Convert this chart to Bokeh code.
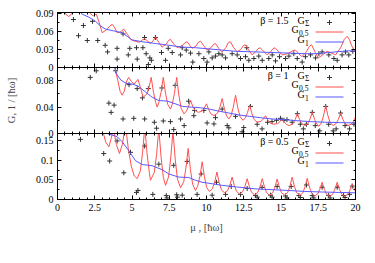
from bokeh.plotting import figure
from bokeh.layouts import column
from bokeh.models import FixedTicker, LinearAxis, Label, BoxAnnotation, Range1d, CustomJSTickFormatter
from bokeh.embed import file_html
from bokeh.resources import INLINE

FONT = "Liberation Serif"
RED = "#ff5050"
BLUE = "#5858ff"
PTS = "#333333"

# ---------------- data ----------------
x_ticks = [0, 2.5, 5, 7.5, 10, 12.5, 15, 17.5, 20]
x_tick_labels = ["0", "2.5", "5", "7.5", "10", "12.5", "15", "17.5", "20"]
x_minor_ticks = [i * 0.5 for i in range(41)]

y_ticks_top = [0, 0.03, 0.06, 0.09]
y_labels_top = ["0", "0.03", "0.06", "0.09"]
y_minor_top = [0.015, 0.045, 0.075]
y_ticks_mid = [0, 0.04, 0.08]
y_labels_mid = ["0", "0.04", "0.08"]
y_minor_mid = [0.02, 0.06, 0.1]
y_ticks_bot = [0, 0.05, 0.1, 0.15]
y_labels_bot = ["0", "0.05", "0.1", "0.15"]
y_minor_bot = [0.025, 0.075, 0.125]

beta_labels = ["\u03b2 = 1.5", "\u03b2 = 1", "\u03b2 = 0.5"]

# G_Sigma points (mu, G)
gs_top = [(1.07, 0.080), (1.41, 0.053), (1.74, 0.070), (2.0, 0.045), (2.35, 0.077), (2.7, 0.045),
          (3.2, 0.037), (3.36, 0.026), (4.0, 0.032), (4.0, 0.014), (4.4, 0.056), (4.75, 0.021),
          (4.85, 0.032), (5.3, 0.033), (5.35, 0.014), (5.73, 0.033), (5.84, 0.050), (5.95, 0.023),
          (6.1, 0.005), (6.2, 0.016), (6.3, 0.012), (6.57, 0.050), (6.98, 0.025), (7.25, 0.012),
          (7.43, 0.032), (7.7, 0.025), (8.26, 0.021), (8.37, 0.033), (8.64, 0.029), (8.93, 0.024),
          (9.08, 0.009), (9.49, 0.023), (9.82, 0.015), (10.04, 0.009), (10.16, 0.026), (10.38, 0.016),
          (10.6, 0.019), (10.83, 0.023), (11.05, 0.021), (11.28, 0.016), (11.72, 0.023), (12.06, 0.021),
          (12.28, 0.015), (12.62, 0.018), (12.7, 0.033), (12.84, 0.012), (13.18, 0.015), (13.51, 0.019),
          (13.74, 0.012), (14.18, 0.015), (14.41, 0.021), (14.63, 0.011), (14.9, 0.018), (15.3, 0.015),
          (15.53, 0.019), (15.86, 0.023), (16.09, 0.015), (16.42, 0.009), (16.64, 0.018), (16.98, 0.021),
          (17.32, 0.016), (17.54, 0.023), (17.76, 0.026), (18.21, 0.021), (18.55, 0.015), (18.77, 0.012),
          (19.1, 0.021), (19.33, 0.026), (19.55, 0.021), (19.82, 0.027)]
gs_mid = [(2.2, 0.085), (2.6, 0.095), (3.45, 0.046), (3.6, 0.032), (3.8, 0.043), (3.9, 0.095),
          (4.4, 0.022), (4.8, 0.074), (5.12, 0.023), (5.35, 0.068), (5.7, 0.054), (5.85, 0.022),
          (6.1, 0.068), (6.5, 0.017), (6.65, 0.008), (7.0, 0.069), (7.1, 0.019), (7.58, 0.018),
          (7.8, 0.006), (7.9, 0.073), (8.26, 0.022), (8.5, 0.012), (8.8, 0.049), (9.15, 0.027),
          (9.2, 0.035), (9.82, 0.035), (10.04, 0.016), (10.5, 0.0145), (10.6, 0.024), (11.05, 0.037),
          (11.39, 0.012), (11.5, 0.0086), (11.95, 0.026), (12.39, 0.0026), (12.5, 0.009), (12.95, 0.041),
          (13.4, 0.014), (13.73, 0.007), (14.1, 0.017), (14.4, 0.018), (14.7, 0.020), (14.97, 0.023),
          (15.2, 0.020), (15.4, 0.021), (15.75, 0.017), (16.1, 0.030), (16.3, 0.014), (16.5, 0.007),
          (16.7, 0.014), (17.1, 0.032), (17.3, 0.012), (17.6, 0.004), (18.0, 0.041), (18.2, 0.014),
          (18.5, 0.004), (18.7, 0.007), (19.0, 0.031), (19.3, 0.012), (19.6, 0.007), (19.9, 0.014)]
gs_bot = [(1.54, 0.153), (3.1, 0.117), (3.5, 0.098), (4.0, 0.149), (4.45, 0.068), (4.9, 0.120),
          (5.3, 0.018), (5.4, 0.023), (5.85, 0.136), (6.4, 0.013), (6.8, 0.090), (7.3, 0.010),
          (7.35, 0.004), (7.8, 0.087), (8.0, 0.012), (8.05, 0.006), (8.37, 0.011), (8.7, 0.097),
          (9.37, 0.013), (9.64, 0.065), (10.38, 0.011), (10.67, 0.044), (11.28, 0.013), (11.66, 0.033),
          (12.28, 0.013), (12.73, 0.028), (13.29, 0.010), (13.4, 0.006), (13.73, 0.031), (14.3, 0.011),
          (14.4, 0.006), (14.74, 0.033), (15.3, 0.009), (15.4, 0.004), (15.68, 0.033), (16.2, 0.010),
          (16.3, 0.005), (16.71, 0.037), (17.1, 0.010), (17.2, 0.004), (17.76, 0.031), (18.2, 0.010),
          (18.3, 0.004), (18.77, 0.031), (19.2, 0.010), (19.3, 0.005), (19.6, 0.013), (19.78, 0.034)]

# G_0.5 curves (mu, G)
red_top = [(0, 0.105), (0.3, 0.097), (0.55, 0.089), (0.75, 0.085), (0.95, 0.089), (1.2, 0.098),
           (1.6, 0.105), (2.0, 0.097), (2.2, 0.09), (2.4, 0.086), (2.6, 0.089), (2.8, 0.075),
           (3.0, 0.058), (3.3, 0.063), (3.5, 0.069), (3.67, 0.072), (3.85, 0.066), (4.0, 0.058),
           (4.2, 0.059), (4.45, 0.064), (4.7, 0.055), (4.95, 0.046), (5.2, 0.044), (5.5, 0.042),
           (5.7, 0.046), (5.86, 0.048), (6.05, 0.044), (6.24, 0.040), (6.4, 0.044), (6.58, 0.051),
           (6.8, 0.042), (7.02, 0.034), (7.3, 0.039), (7.45, 0.045), (7.58, 0.047), (7.8, 0.039),
           (8.03, 0.033), (8.35, 0.036), (8.55, 0.041), (8.7, 0.043), (8.87, 0.037), (9.04, 0.032),
           (9.3, 0.036), (9.45, 0.042), (9.6, 0.044), (9.82, 0.036), (10.04, 0.029), (10.3, 0.033),
           (10.45, 0.038), (10.6, 0.040), (10.82, 0.032), (11.05, 0.026), (11.3, 0.033), (11.45, 0.041),
           (11.6, 0.043), (11.83, 0.033), (12.06, 0.026), (12.3, 0.030), (12.45, 0.036), (12.6, 0.038),
           (12.83, 0.029), (13.06, 0.021), (13.3, 0.026), (13.45, 0.031), (13.6, 0.033), (13.83, 0.027),
           (14.07, 0.021), (14.3, 0.026), (14.45, 0.031), (14.6, 0.033), (14.85, 0.026), (15.08, 0.021),
           (15.3, 0.022), (15.6, 0.025), (15.8, 0.028), (15.97, 0.029), (16.2, 0.023), (16.4, 0.018),
           (16.7, 0.026), (16.9, 0.035), (17.05, 0.038), (17.3, 0.025), (17.5, 0.016), (17.8, 0.021),
           (18.1, 0.027), (18.4, 0.024), (18.66, 0.021), (19.0, 0.033), (19.25, 0.047), (19.44, 0.052),
           (19.6, 0.046), (19.75, 0.036), (20.0, 0.026)]
red_mid = [(3.8, 0.105), (4.05, 0.08), (4.2, 0.064), (4.34, 0.058), (4.48, 0.064), (4.62, 0.078),
           (4.77, 0.085), (4.95, 0.079), (5.15, 0.075), (5.4, 0.082), (5.55, 0.071), (5.75, 0.055),
           (5.99, 0.0595), (6.14, 0.070), (6.29, 0.085), (6.44, 0.0625), (6.59, 0.047), (6.69, 0.040),
           (6.8, 0.047), (6.95, 0.0625), (7.1, 0.085), (7.25, 0.061), (7.4, 0.044), (7.58, 0.037),
           (7.7, 0.044), (7.85, 0.061), (8.0, 0.085), (8.15, 0.0575), (8.3, 0.038), (8.48, 0.030),
           (8.63, 0.033), (8.78, 0.040), (8.93, 0.050), (9.08, 0.041), (9.23, 0.035), (9.45, 0.032),
           (9.7, 0.034), (9.85, 0.0385), (10.0, 0.045), (10.15, 0.036), (10.3, 0.0297), (10.5, 0.027),
           (10.75, 0.031), (10.9, 0.040), (11.05, 0.053), (11.2, 0.0375), (11.35, 0.0267), (11.5, 0.022),
           (11.65, 0.0274), (11.8, 0.040), (11.95, 0.058), (12.1, 0.039), (12.25, 0.0257), (12.45, 0.020),
           (12.6, 0.0235), (12.75, 0.0315), (12.9, 0.043), (13.05, 0.030), (13.2, 0.021), (13.4, 0.017),
           (13.66, 0.0185), (13.81, 0.022), (13.96, 0.027), (14.11, 0.0205), (14.26, 0.016), (14.5, 0.014),
           (14.78, 0.015), (14.93, 0.018), (15.08, 0.022), (15.23, 0.017), (15.38, 0.0135), (15.55, 0.012),
           (15.8, 0.0147), (15.95, 0.021), (16.1, 0.030), (16.25, 0.021), (16.4, 0.0147), (16.6, 0.012),
           (16.8, 0.015), (16.95, 0.022), (17.1, 0.032), (17.25, 0.0215), (17.4, 0.014), (17.55, 0.011),
           (17.7, 0.0157), (17.85, 0.0265), (18.0, 0.042), (18.15, 0.027), (18.3, 0.0165), (18.5, 0.012),
           (18.7, 0.015), (18.85, 0.0215), (19.0, 0.031), (19.15, 0.0215), (19.3, 0.015), (19.5, 0.012),
           (19.7, 0.014), (19.85, 0.018), (20.0, 0.025)]
red_bot = [(2.9, 0.185), (3.1, 0.165), (3.25, 0.145), (3.45, 0.134), (3.6, 0.155), (3.75, 0.18),
           (3.95, 0.14), (4.16, 0.117), (4.35, 0.14), (4.56, 0.19), (4.75, 0.13), (4.95, 0.085),
           (5.15, 0.060), (5.35, 0.053), (5.56, 0.073), (5.71, 0.119), (5.86, 0.185), (6.01, 0.117),
           (6.16, 0.069), (6.24, 0.049), (6.5, 0.069), (6.65, 0.1145), (6.8, 0.18), (6.95, 0.108),
           (7.1, 0.057), (7.25, 0.036), (7.45, 0.057), (7.6, 0.1055), (7.75, 0.175), (7.9, 0.1025),
           (8.05, 0.052), (8.26, 0.030), (8.47, 0.045), (8.62, 0.080), (8.77, 0.13), (8.92, 0.0765),
           (9.07, 0.039), (9.26, 0.023), (9.41, 0.034), (9.56, 0.0595), (9.71, 0.096), (9.86, 0.058),
           (10.01, 0.031), (10.2, 0.020), (10.4, 0.0275), (10.55, 0.045), (10.7, 0.070), (10.85, 0.0435),
           (11.0, 0.025), (11.2, 0.017), (11.42, 0.023), (11.57, 0.037), (11.72, 0.057), (11.87, 0.0355),
           (12.02, 0.0205), (12.22, 0.014), (12.43, 0.020), (12.58, 0.0335), (12.73, 0.053), (12.88, 0.0325),
           (13.03, 0.018), (13.24, 0.012), (13.44, 0.018), (13.59, 0.0325), (13.74, 0.053), (13.89, 0.032),
           (14.04, 0.017), (14.24, 0.011), (14.44, 0.017), (14.59, 0.0315), (14.74, 0.052), (14.89, 0.0315),
           (15.04, 0.017), (15.25, 0.011), (15.45, 0.018), (15.6, 0.034), (15.75, 0.057), (15.9, 0.0335),
           (16.05, 0.017), (16.25, 0.010), (16.46, 0.0166), (16.61, 0.032), (16.76, 0.054), (16.91, 0.0315),
           (17.06, 0.016), (17.26, 0.009), (17.46, 0.014), (17.61, 0.0265), (17.76, 0.044), (17.91, 0.026),
           (18.06, 0.013), (18.26, 0.008), (18.47, 0.0135), (18.62, 0.026), (18.77, 0.044), (18.92, 0.026),
           (19.07, 0.0135), (19.27, 0.008), (19.48, 0.013), (19.63, 0.024), (19.78, 0.040), (19.93, 0.026),
           (20.0, 0.020)]

# G_1 curves (mu, G)
blue_top = [(1.55, 0.092), (1.65, 0.089), (2.1, 0.084), (2.55, 0.077), (2.9, 0.069), (3.22, 0.064),
            (3.78, 0.061), (4.34, 0.058), (4.68, 0.052), (5.01, 0.046), (5.68, 0.043), (6.58, 0.040),
            (7.47, 0.037), (8.37, 0.034), (9.26, 0.033), (10.16, 0.031), (11.05, 0.029), (11.95, 0.027),
            (13.29, 0.026), (14.41, 0.025), (15.53, 0.024), (16.65, 0.023), (17.3, 0.023), (18.2, 0.025),
            (19.1, 0.027), (19.55, 0.028), (20.0, 0.027)]
blue_mid = [(3.8, 0.102), (4.0, 0.089), (4.25, 0.081), (4.6, 0.076), (5.0, 0.075), (5.4, 0.072),
            (5.9, 0.063), (6.35, 0.055), (6.8, 0.050), (7.4, 0.049), (7.9, 0.045), (8.4, 0.041),
            (9.0, 0.040), (9.6, 0.039), (10.2, 0.037), (10.8, 0.034), (11.5, 0.031), (12.2, 0.028),
            (12.9, 0.026), (13.6, 0.024), (14.4, 0.022), (15.2, 0.021), (16.0, 0.0195), (17.0, 0.018),
            (18.0, 0.017), (19.0, 0.0165), (20.0, 0.016)]
blue_bot = [(2.9, 0.172), (3.42, 0.167), (4.0, 0.16), (4.34, 0.147), (4.77, 0.125), (5.23, 0.099),
            (5.68, 0.089), (6.35, 0.086), (7.02, 0.076), (7.47, 0.065), (8.14, 0.057), (8.8, 0.056),
            (9.26, 0.049), (9.7, 0.044), (10.4, 0.040), (11.05, 0.036), (12.0, 0.032), (13.3, 0.027),
            (14.4, 0.025), (15.5, 0.023), (16.6, 0.0205), (17.8, 0.019), (18.9, 0.018), (20.0, 0.017)]

# ---------------- drawing ----------------
FW = 298
LEFT = 57
RIGHT = 12
GAP = 6   # room for the edge tick labels; neighbouring canvases overlap by 2*GAP


def unzip(pairs):
    return [a for a, b in pairs], [b for a, b in pairs]


def tick_axis(ax, ticks, minor, labels):
    ax.ticker = FixedTicker(ticks=ticks, minor_ticks=minor)
    ax.major_tick_in = 4
    ax.major_tick_out = 0
    ax.minor_tick_in = 2
    ax.minor_tick_out = 0
    ax.axis_line_color = "black"
    ax.major_tick_line_color = "black"
    ax.minor_tick_line_color = "black"
    if labels:
        ax.major_label_overrides = dict(zip(ticks, labels))
        ax.major_label_text_font = FONT
        ax.major_label_text_font_size = "10px"
        ax.major_label_text_color = "black"
        ax.major_label_standoff = 4
    else:
        ax.formatter = CustomJSTickFormatter(code="return ''")
        ax.major_label_standoff = 0


def make_panel(h, ymax, yt, ylab, yminor, gs, red, blue, beta, bottom_labels, btop, bbot, mtop):
    p = figure(frame_width=FW, frame_height=h, x_range=Range1d(0, 20), y_range=Range1d(0, ymax),
               output_backend="svg", toolbar_location=None,
               min_border_left=LEFT, min_border_right=RIGHT,
               min_border_top=btop, min_border_bottom=bbot,
               border_fill_color=None, background_fill_color="white",
               margin=(mtop, 0, 0, 0))
    p.grid.visible = False
    p.outline_line_color = "black"
    p.outline_line_width = 1
    bottom_ax = p.xaxis[0]
    left_ax = p.yaxis[0]
    tick_axis(bottom_ax, x_ticks, x_minor_ticks, x_tick_labels if bottom_labels else None)
    tick_axis(left_ax, yt, yminor, ylab)
    top_ax = LinearAxis()
    tick_axis(top_ax, x_ticks, x_minor_ticks, None)
    p.add_layout(top_ax, "above")
    right_ax = LinearAxis()
    tick_axis(right_ax, yt, yminor, None)
    p.add_layout(right_ax, "right")

    gx, gy = unzip(gs)
    p.scatter(gx, gy, marker="cross", size=5, line_color=PTS, line_width=1)
    rx, ry = unzip(red)
    p.line(rx, ry, line_color=RED, line_width=1)
    bx, by = unzip(blue)
    p.line(bx, by, line_color=BLUE, line_width=1)

    def lab(x, off, text, size="10px", align="left"):
        p.add_layout(Label(x=x, y=h - off, x_units="screen", y_units="screen", text=text,
                           text_font=FONT, text_font_size=size, text_baseline="middle",
                           text_align=align, text_color="black"))

    def box(l, r, off_top, off_bot, color):
        p.add_layout(BoxAnnotation(left=l, right=r, top=h - off_top, bottom=h - off_bot,
                                   left_units="screen", right_units="screen",
                                   top_units="screen", bottom_units="screen",
                                   fill_color=color, fill_alpha=1, line_color=None))

    # legend row 1
    lab(231, 8, beta, align="right")
    lab(240, 8, "G")
    lab(247.5, 11, "\u03a3", size="7.5px")
    box(269.5, 274.5, 9.5, 10.5, PTS)
    box(271.5, 272.5, 7.5, 12.5, PTS)
    # legend row 2
    lab(234, 17, "G")
    lab(241.5, 20, "0.5", size="7.5px")
    box(258, 286, 19, 20, RED)
    # legend row 3
    lab(240, 27, "G")
    lab(247.5, 30, "1", size="7.5px")
    box(258, 286, 29, 30, BLUE)
    return p, bottom_ax, left_ax


p1, b1, l1 = make_panel(55, 0.0917, y_ticks_top, y_labels_top, y_minor_top, gs_top, red_top, blue_top,
                        beta_labels[0], False, 12, GAP, 0)
p2, b2, l2 = make_panel(66, 0.1, y_ticks_mid, y_labels_mid, y_minor_mid, gs_mid, red_mid, blue_mid,
                        beta_labels[1], False, GAP, GAP, -2 * GAP)
p3, b3, l3 = make_panel(66, 0.168, y_ticks_bot, y_labels_bot, y_minor_bot, gs_bot, red_bot, blue_bot,
                        beta_labels[2], True, GAP, 0, -2 * GAP)

l2.axis_label = "G, 1 / [\u0127\u03c9]"
l2.axis_label_text_font = FONT
l2.axis_label_text_font_size = "10.5px"
l2.axis_label_text_font_style = "normal"
l2.axis_label_standoff = 16

b3.axis_label = "\u03bc , [\u0127\u03c9]"
b3.axis_label_text_font = FONT
b3.axis_label_text_font_size = "10.5px"
b3.axis_label_text_font_style = "normal"
b3.axis_label_standoff = 8

layout = column(p1, p2, p3)
open("out.html", "w").write(file_html(layout, INLINE))
